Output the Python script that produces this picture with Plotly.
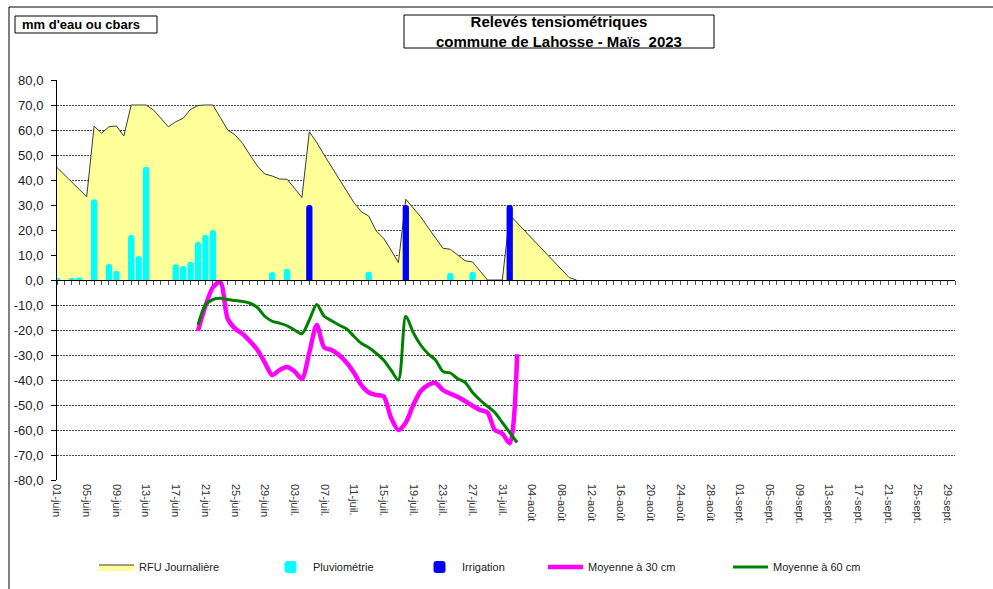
import pandas as pd
import plotly.graph_objects as go

# ---------------- data ----------------
season_start = "2023-06-01"
axis_end = "2023-09-30"

# RFU journalière (mm), one value per day from 01-juin
rfu_mm = [45.0, 42.0, 39.0, 36.3, 33.3, 61.6, 58.7, 61.3, 61.6, 57.6,
          70.0, 70.0, 70.0, 68.0, 64.7, 61.3, 63.3, 64.7, 68.3, 69.8,
          70.0, 70.0, 65.0, 60.0, 58.0, 54.7, 50.0, 45.6, 42.4, 41.6,
          40.4, 40.3, 36.7, 33.0, 59.3, 55.0, 50.0, 45.3, 40.6, 35.5,
          31.0, 27.3, 25.6, 19.7, 16.7, 12.0, 7.0, 32.3, 28.8, 25.3,
          21.0, 16.9, 12.7, 12.3, 10.0, 7.7, 7.2, 3.6, 0.0, 0.0,
          0.0, 26.0, 22.9, 19.7, 16.6, 13.4, 10.3, 7.1, 4.0, 1.0,
          0.0]

# Pluviométrie (mm)
rain_dates = ["2023-06-01", "2023-06-03", "2023-06-04", "2023-06-06", "2023-06-08",
              "2023-06-09", "2023-06-11", "2023-06-12", "2023-06-13", "2023-06-17",
              "2023-06-18", "2023-06-19", "2023-06-20", "2023-06-21", "2023-06-22",
              "2023-06-30", "2023-07-02", "2023-07-13", "2023-07-24", "2023-07-27"]
rain_mm = [0.7, 0.8, 1.0, 32.3, 6.4,
           3.7, 18.0, 9.6, 45.3, 6.3,
           5.6, 7.3, 15.2, 18.1, 20.0,
           3.2, 4.5, 3.3, 2.9, 3.3]

# Irrigation (mm)
irr_dates = ["2023-07-05", "2023-07-18", "2023-08-01"]
irr_mm = [30.0, 30.0, 30.0]

# Tensiomètres (cbars), one value per day from 20-juin
probe_start = "2023-06-20"
moy30 = [-20.4, -10.4, -3.0, -0.8, -15.5, -19.5, -21.5, -24.5, -28.0, -33.0,
         -38.0, -36.0, -34.8, -36.5, -39.5, -29.0, -18.0, -27.0, -28.0, -30.0,
         -33.0, -37.0, -42.0, -45.0, -46.0, -46.5, -55.0, -60.0, -57.0, -50.0,
         -44.5, -42.0, -41.2, -44.0, -45.5, -46.8, -48.5, -50.3, -52.0, -53.0,
         -60.0, -61.4, -65.3, -29.7]
moy60 = [-18.0, -10.0, -7.8, -7.3, -7.8, -8.2, -8.6, -9.3, -11.0, -14.5,
         -16.5, -17.3, -18.3, -20.0, -21.5, -16.0, -9.8, -14.5, -16.3, -18.0,
         -19.5, -22.5, -25.3, -27.0, -29.3, -32.0, -36.0, -40.0, -14.5, -21.0,
         -26.0, -29.5, -32.0, -36.6, -37.2, -39.5, -41.0, -45.0, -48.0, -50.5,
         -53.0, -57.0, -61.0, -65.0]

# tick labels
x_tick_text = ["01-juin", "05-juin", "09-juin", "13-juin", "17-juin", "21-juin",
               "25-juin", "29-juin", "03-juil.", "07-juil.", "11-juil.", "15-juil.",
               "19-juil.", "23-juil.", "27-juil.", "31-juil.", "04-août", "08-août",
               "12-août", "16-août", "20-août", "24-août", "28-août", "01-sept.",
               "05-sept.", "09-sept.", "13-sept.", "17-sept.", "21-sept.", "25-sept.",
               "29-sept."]
y_tick_vals = [80, 70, 60, 50, 40, 30, 20, 10, 0, -10, -20, -30, -40, -50, -60, -70, -80]
y_tick_text = ["80,0", "70,0", "60,0", "50,0", "40,0", "30,0", "20,0", "10,0", "0,0",
               "-10,0", "-20,0", "-30,0", "-40,0", "-50,0", "-60,0", "-70,0", "-80,0"]

# ---------------- figure ----------------
DAY_MS = 86400000
FONT = "Liberation Sans, Arial, sans-serif"

rfu_dates = pd.date_range(season_start, periods=len(rfu_mm), freq="D")
probe_dates = pd.date_range(probe_start, periods=len(moy30), freq="D")
x_tick_vals = pd.date_range(season_start, periods=len(x_tick_text), freq="4D")

# plot area pixels: x 57..955, y 80..480
L, R, T, B = 57, 38, 80, 109
W, H = 993, 589
PW, PH = W - L - R, H - T - B


def px(xp):
    return (xp - L) / PW


def py(yp):
    return (H - B - yp) / PH


fig = go.Figure()

fig.add_trace(go.Scatter(
    x=rfu_dates, y=rfu_mm, name="RFU Journalière", mode="lines",
    fill="tozeroy", fillcolor="#FFFF99", legend="legend",
    line=dict(color="#3c3c3c", width=1), hoverinfo="skip"))

fig.add_trace(go.Bar(
    x=rain_dates, y=rain_mm, name="Pluviométrie", xaxis="x2", yaxis="y2",
    width=0.85 * DAY_MS, legend="legend2",
    marker=dict(color="#00FFFF", line=dict(width=0), cornerradius=3)))

fig.add_trace(go.Bar(
    x=irr_dates, y=irr_mm, name="Irrigation", xaxis="x2", yaxis="y2",
    width=0.85 * DAY_MS, legend="legend3",
    marker=dict(color="#0000FF", line=dict(width=0), cornerradius=3)))

fig.add_trace(go.Scatter(
    x=probe_dates, y=moy30, name="Moyenne à 30 cm", mode="lines",
    xaxis="x2", yaxis="y2", legend="legend4",
    line=dict(color="#FF00FF", width=4.5, shape="spline", smoothing=0.8)))

fig.add_trace(go.Scatter(
    x=probe_dates, y=moy60, name="Moyenne à 60 cm", mode="lines",
    xaxis="x2", yaxis="y2", legend="legend5",
    line=dict(color="#008000", width=3, shape="spline", smoothing=0.8)))


def legend_at(x_pix):
    return dict(
        orientation="h", x=px(x_pix), y=py(567), xanchor="left", yanchor="middle",
        font=dict(family=FONT, size=11, color="#222"), bgcolor="rgba(0,0,0,0)",
        itemwidth=35, borderwidth=0,
    )


fig.update_layout(
    width=W, height=H, autosize=False,
    margin=dict(l=L, r=R, t=T, b=B, pad=0, autoexpand=False),
    paper_bgcolor="white", plot_bgcolor="white",
    font=dict(family=FONT, size=11, color="#222"),
    barmode="overlay",
    hovermode=False,
    xaxis=dict(
        type="date", range=[season_start, axis_end], automargin=False,
        tickmode="array", tickvals=x_tick_vals, ticktext=x_tick_text,
        tickangle=90, tickfont=dict(size=11, color="#333"), ticklabelstandoff=3,
        showgrid=False, zeroline=False, showline=False, ticks="",
    ),
    yaxis=dict(
        range=[-80, 80], tickmode="array", tickvals=y_tick_vals, ticktext=y_tick_text,
        tickfont=dict(size=13, color="#222"), automargin=False, ticklabelstandoff=5,
        showgrid=True, gridcolor="#4a4a4a", gridwidth=1, griddash="2px,1px",
        zeroline=False, showline=True, linecolor="black", linewidth=1,
        ticks="outside", ticklen=5, tickcolor="black",
    ),
    xaxis2=dict(
        type="date", range=[season_start, axis_end], overlaying="x",
        anchor="free", position=0.5,
        showticklabels=False, showgrid=False, zeroline=False,
        showline=True, linecolor="black", linewidth=1,
        ticks="outside", ticklen=4, tickcolor="#555", tickwidth=1,
        tick0=season_start, dtick=DAY_MS,
    ),
    yaxis2=dict(range=[-80, 80], overlaying="y", visible=False),
    legend=legend_at(94),
    legend2=legend_at(268),
    legend3=legend_at(417),
    legend4=legend_at(543),
    legend5=legend_at(728),
    showlegend=True,
)

# chart frame and text boxes
fig.add_shape(type="rect", xref="paper", yref="paper",
              x0=px(9), x1=px(1010), y0=py(620), y1=py(7),
              line=dict(color="black", width=1), fillcolor="rgba(0,0,0,0)", layer="below")
fig.add_shape(type="rect", xref="paper", yref="paper",
              x0=px(15), x1=px(157), y0=py(33), y1=py(16),
              line=dict(color="black", width=1), fillcolor="white")
fig.add_shape(type="rect", xref="paper", yref="paper",
              x0=px(404), x1=px(714), y0=py(48), y1=py(15),
              line=dict(color="black", width=1), fillcolor="white")

fig.add_annotation(xref="paper", yref="paper", x=px(20), y=py(24.5),
                   xanchor="left", yanchor="middle", showarrow=False,
                   text="<b>mm d'eau ou cbars</b>",
                   font=dict(family=FONT, size=13, color="black"))
fig.add_annotation(xref="paper", yref="paper", x=px(559), y=py(32),
                   xanchor="center", yanchor="middle", showarrow=False,
                   text="<b>Relevés tensiométriques</b><br><b>commune de Lahosse - Maïs\u00a0\u00a02023</b>",
                   font=dict(family=FONT, size=15, color="black"))

fig.write_html("out.html", config={"displayModeBar": False},
               post_script="document.body.style.margin='0px';")
